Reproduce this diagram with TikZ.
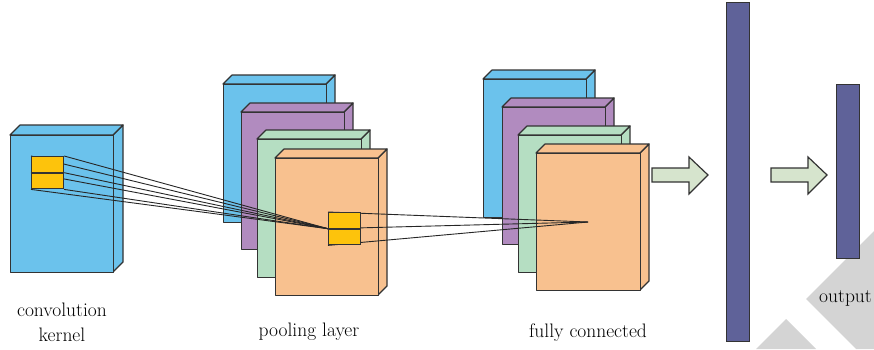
\documentclass[tikz,border=0pt]{standalone}
\usepackage{amsmath}
\usetikzlibrary{positioning}

\definecolor{mapblue}{HTML}{6BC2EC}
\definecolor{mappurple}{HTML}{B18BBF}
\definecolor{mapgreen}{HTML}{B5DEC2}
\definecolor{maporange}{HTML}{F8C18F}
\definecolor{kernyellow}{HTML}{FDC30C}
\definecolor{barblue}{HTML}{5F6299}
\definecolor{arrowgreen}{HTML}{D6E4CD}
\definecolor{edgegray}{HTML}{333333}
\definecolor{markgray}{HTML}{D4D4D4}

\tikzset{
    box/.style={draw=edgegray, line width=1.2pt, line join=round},
    kern/.style={draw=edgegray, line width=1.2pt, fill=kernyellow, inner sep=0pt,
        minimum width=32pt, minimum height=15.5pt},
    bar/.style={draw=edgegray, line width=1.2pt, fill=barblue, inner sep=0pt,
        minimum width=23pt},
    blockarrow/.style={draw=edgegray, line width=1.2pt, fill=arrowgreen, line join=miter},
    wire/.style={black!85, line width=0.9pt},
    label/.style={inner sep=0pt, text=black, font=\fontsize{19.5}{25}\selectfont}
}

% feature map: name, x, y, width, height, depth, colour
\newcommand{\featmap}[7]{%
    \draw[box, fill=#7] (#2+#4,#3) -- ++(#6,-#6) -- ++(0,#5) -- ++(-#6,#6) -- cycle;
    \draw[box, fill=#7] (#2,#3) -- ++(#6,-#6) -- ++(#4,0) -- ++(-#6,#6) -- cycle;
    \node[box, fill=#7, inner sep=0pt, minimum width=#4pt, minimum height=#5pt,
        anchor=north west] (#1) at (#2,#3) {};
}

% block arrow starting at a coordinate
\newcommand{\blockarrow}[1]{%
    \draw[blockarrow] (#1) ++(0,-7) -- ++(37,0) -- ++(0,-11) -- ++(19,18)
        -- ++(-19,19) -- ++(0,-12) -- ++(-37,0) -- cycle;
}

\begin{document}
\begin{tikzpicture}[x=1pt,y=-1pt]
    \useasboundingbox (0,0) rectangle (874,349);
    \clip (0,0) rectangle (874,349);

    % grey marks in the corner
    \fill[markgray] (806,299) -- (874,231) -- (874,349) -- (856,349) -- cycle;
    \fill[markgray] (786,319) -- (816,349) -- (756,349) -- cycle;

    % input
    \featmap{input}{10}{135}{103}{137}{10}{mapblue}

    % pooling stack
    \featmap{poolA}{223}{84}{103}{138}{9}{mapblue}
    \featmap{poolB}{241}{112}{103}{137}{9}{mappurple}
    \featmap{poolC}{257}{139}{104}{138}{9}{mapgreen}
    \featmap{poolD}{275}{158}{103}{137}{9}{maporange}

    % fully connected stack
    \featmap{fcA}{483}{79}{103}{138}{9}{mapblue}
    \featmap{fcB}{502}{107}{103}{137}{9}{mappurple}
    \featmap{fcC}{518}{135}{103}{137}{9}{mapgreen}
    \featmap{fcD}{536}{153}{104}{137}{9}{maporange}

    \coordinate (k1) at (31,156);
    \coordinate (k2) at (328,212);
    \coordinate (fc) at (588,222);

    \node[kern, anchor=north west] (k1a) at (k1) {};
    \node[kern, anchor=north] (k1b) at (k1a.south) {};
    \node[kern, anchor=north west] (k2a) at (k2) {};
    \node[kern, anchor=north] (k2b) at (k2a.south) {};

    \foreach \p in {k1a.north west, k1a.north east, k1a.south west,
                    k1a.south east, k1b.south west, k1b.south east}
        \draw[wire] (\p) -- (k2a.south west);
    \foreach \p in {k2a.north west, k2a.south west, k2b.south west}
        \draw[wire] (\p) -- (fc);

    % kernels on top of the wires
    \node[kern, anchor=north west] at (k1) {};
    \node[kern, anchor=north] at (k1a.south) {};
    \node[kern, anchor=north west] at (k2) {};
    \node[kern, anchor=north] at (k2a.south) {};

    % dense layers
    \node[bar, minimum height=339pt, anchor=north west] (dense) at (726,2) {};
    \node[bar, minimum height=174pt, anchor=north west] (output) at (836,84) {};

    \coordinate (a1) at (652,175);
    \coordinate (a2) at (771,175);
    \blockarrow{a1}
    \blockarrow{a2}

    \node[label, align=center, anchor=north] (lconv) at (62,303) {convolution\\kernel};
    \node[label, anchor=base] (lpool) at (309,336) {pooling layer};
    \node[label, anchor=base] (lfc) at (588,337) {fully connected};
    \node[label, anchor=base west] (lout) at (819,302) {output};
\end{tikzpicture}
\end{document}
